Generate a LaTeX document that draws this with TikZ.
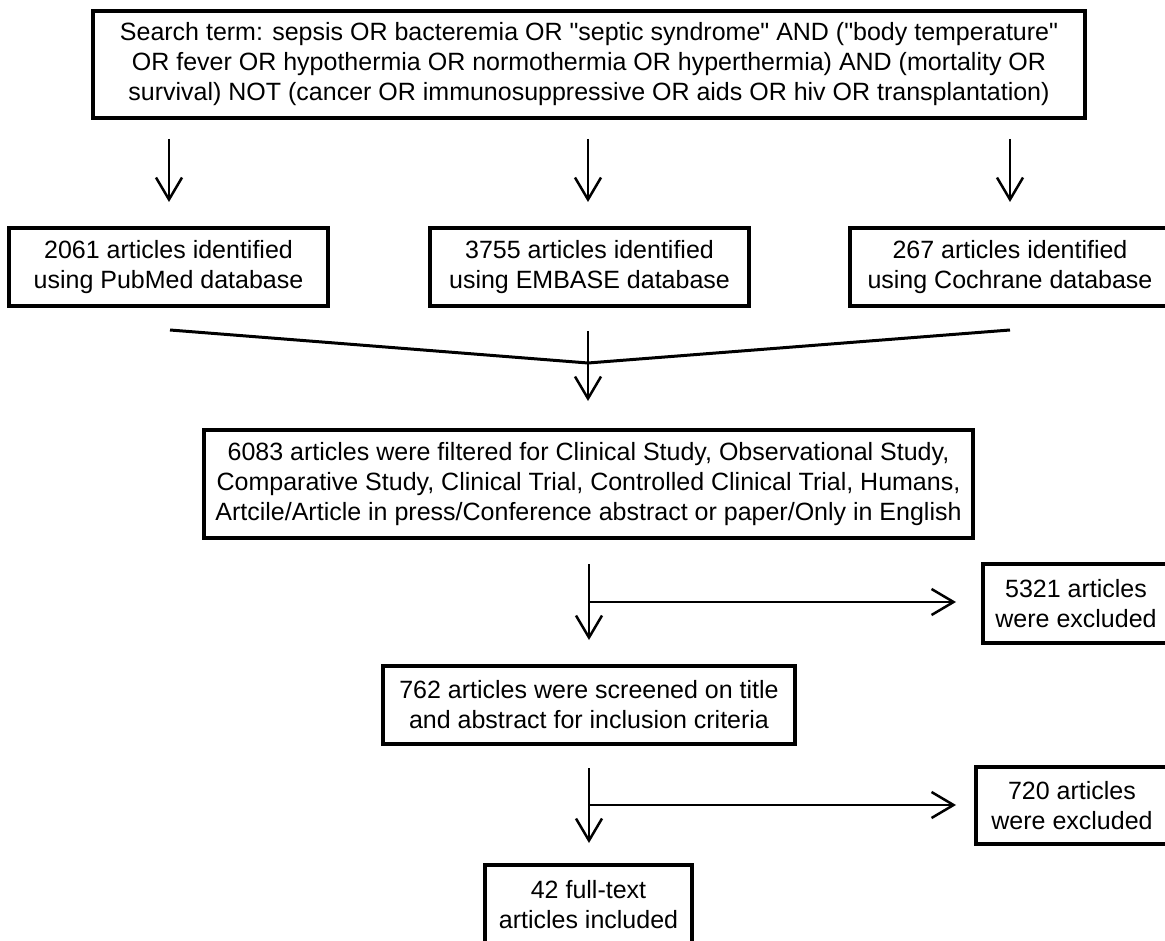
\documentclass[tikz,border=0pt]{standalone}
\usepackage{fontspec}
\setmainfont{Liberation Sans}[Ligatures=TeXOff]
\usetikzlibrary{arrows.meta}
\begin{document}
\begin{tikzpicture}[x=1pt,y=-1pt,
  box/.style={draw=black, line width=3.5pt, inner sep=0pt, align=center,
    font=\fontsize{25}{30}\selectfont},
  arr/.style={line width=2.5pt, -{Straight Barb[length=22pt,width=26pt,line width=2.5pt]}},
  ln/.style={line width=3pt}]
\useasboundingbox[fill=white] (0,0) rectangle (1165,941);
\node[box, minimum width=992pt, minimum height=107pt] (top) at (589,64.5)
  {Search term: sepsis OR bacteremia OR "septic syndrome" AND ("body temperature"\\
   OR fever OR hypothermia OR normothermia OR hyperthermia) AND (mortality OR\\
   survival) NOT (cancer OR immunosuppressive OR aids OR hiv OR transplantation)};
\node[box, minimum width=319pt, minimum height=78pt] (pub) at (168.5,267)
  {2061 articles identified\\using PubMed database};
\node[box, minimum width=319pt, minimum height=78pt] (emb) at (589.5,267)
  {3755 articles identified\\using EMBASE database};
\node[box, minimum width=320pt, minimum height=78pt] (coc) at (1010,267)
  {267 articles identified\\using Cochrane database};
\node[box, minimum width=769pt, minimum height=108pt] (filt) at (588.5,484)
  {6083 articles were filtered for Clinical Study, Observational Study,\\
   Comparative Study, Clinical Trial, Controlled Clinical Trial, Humans,\\
   Artcile/Article in press/Conference abstract or paper/Only in English};
\node[box, minimum width=186pt, minimum height=79pt] (ex1) at (1076,603.5)
  {5321 articles\\were excluded};
\node[box, minimum width=412pt, minimum height=78pt] (scr) at (589,705)
  {762 articles were screened on title\\and abstract for inclusion criteria};
\node[box, minimum width=192pt, minimum height=77pt] (ex2) at (1072,805.5)
  {720 articles\\were excluded};
\node[box, minimum width=207pt, minimum height=80pt] (inc) at (588.5,905)
  {42 full-text\\articles included};
% arrows from search box
\coordinate (a1) at (169,139);
\coordinate (a2) at (588,139);
\coordinate (a3) at (1010,139);
\draw[arr] (a1) -- (a1 |- {(0,202)});
\draw[arr] (a2) -- (a2 |- {(0,202)});
\draw[arr] (a3) -- (a3 |- {(0,202)});
% merge
\coordinate (m1) at (170,330);
\coordinate (m3) at (1010,330);
\coordinate (mj) at (588,363);
\draw[ln] (m1) -- (mj) -- (m3);
\coordinate (ma) at (588,331);
\draw[arr] (ma) -- (588,401);
% exclusion 1
\coordinate (b1) at (589,564);
\coordinate (b1j) at (589,602);
\draw[arr] (b1) -- (589,640);
\draw[arr] (b1j) -- (956,602);
% exclusion 2
\coordinate (b2) at (589,768);
\coordinate (b2j) at (589,805);
\draw[arr] (b2) -- (589,843);
\draw[arr] (b2j) -- (956,805);
\end{tikzpicture}
\end{document}
